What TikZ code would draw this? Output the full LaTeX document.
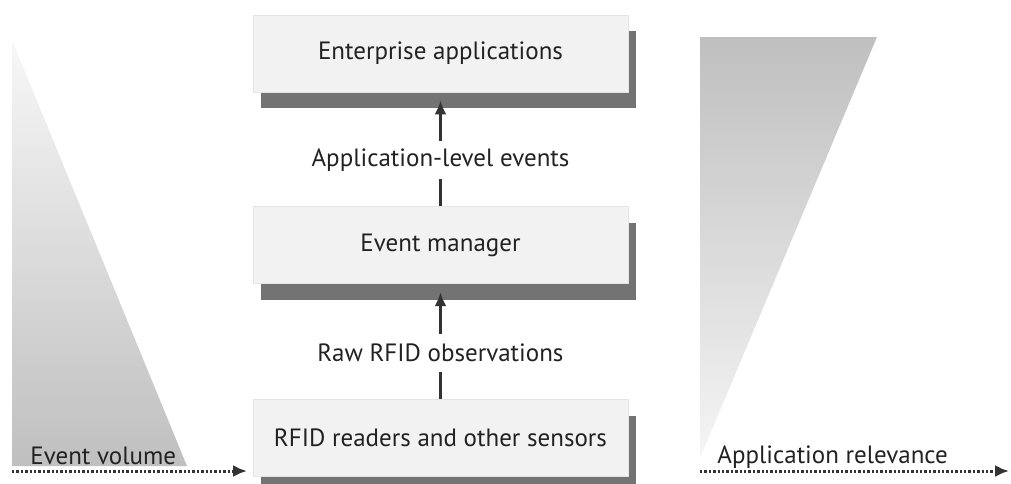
\documentclass[tikz,border=0pt]{standalone}
\usepackage{fontspec}
\setmainfont{PT Sans}
\usepackage{xcolor}
\usepackage{tikz}
\usetikzlibrary{
  positioning, arrows.meta, shadows
}
\definecolor{txtgray}{HTML}{222222}
\definecolor{linegray}{HTML}{333333}

\begin{document}
\begin{tikzpicture}[
  x=0.5pt, y=-0.5pt,
  tier/.style={
    rectangle, fill=black!5, draw=black!10,
    minimum width=187.5pt, minimum height=38.5pt,
    font=\fontsize{12.5}{15}\selectfont, text=txtgray, inner sep=0pt,
    drop shadow={shadow xshift=4pt, shadow yshift=-8pt,
                 fill=black!55, opacity=1}
  },
  arr/.style={-{Latex[length=7pt, width=6pt]}, line width=1.4pt,
              color=linegray, shorten >=4pt},
  axis/.style={-{Latex[length=7pt, width=6pt]},
               dash pattern=on 1.2pt off 1pt,
               line width=1.5pt, color=linegray},
  flowlabel/.style={fill=white, minimum height=19pt, inner sep=2pt,
                    font=\fontsize{12.5}{15}\selectfont, text=txtgray},
  caption/.style={font=\fontsize{12.5}{15}\selectfont, text=txtgray,
                  inner sep=0pt},
]
\useasboundingbox (0,0) rectangle (1011,483);

% Volume / relevance wedges
\shade[top color=black!3, bottom color=black!25]
  (12,40) -- (12,466) -- (187,466) -- cycle;
\shade[top color=black!25, bottom color=black!4]
  (700,37) -- (877,37) -- (700,458) -- cycle;

% Tiers
\node[tier] (ea) at (440.5,53.5) {Enterprise applications};
\node[tier, below=57pt of ea] (em) {Event manager};
\node[tier, below=57.5pt of em] (rd) {RFID readers and other sensors};

% Arrows
\draw[arr] (em) -- node[flowlabel, pos=0.41] (ale)
  {Application-level events} (ea);
\draw[arr] (rd) -- node[flowlabel, pos=0.4] (raw)
  {Raw RFID observations} (em);

% Axes
\coordinate (vol0) at (12,471);
\coordinate (vol1) at (247,471);
\coordinate (rel0) at (700,471);
\coordinate (rel1) at (1009,471);
\draw[axis] (vol0) -- (vol1);
\draw[axis] (rel0) -- (rel1);

% Labels
\node[caption, anchor=base west] (evl) at (30,464) {Event volume};
\node[caption, anchor=base west] (apr) at (717,463) {Application relevance};

\end{tikzpicture}
\end{document}
